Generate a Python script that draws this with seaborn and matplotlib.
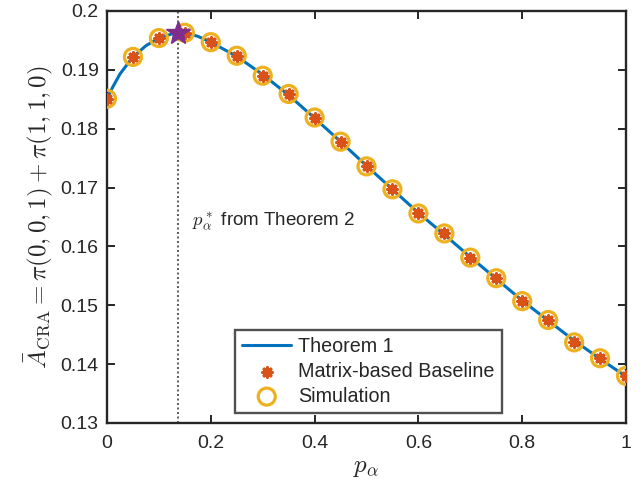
import numpy as np
import pandas as pd
import seaborn as sns
import matplotlib.pyplot as plt

# Datos
p_sim = [0.0, 0.05, 0.1, 0.15, 0.2, 0.25, 0.3, 0.35, 0.4, 0.45, 0.5,
         0.55, 0.6, 0.65, 0.7, 0.75, 0.8, 0.85, 0.9, 0.95, 1.0]
a_sim = [0.1851, 0.1922, 0.1954, 0.1963, 0.1947, 0.1924, 0.1890, 0.1859, 0.1819, 0.1778, 0.1736,
         0.1697, 0.1656, 0.1622, 0.1581, 0.1546, 0.1507, 0.1475, 0.1437, 0.1410, 0.1380]
a_matrix = a_sim

# Curva teorica (Theorem 1)
p_theory = [0.0, 0.01, 0.025, 0.05, 0.075, 0.1, 0.125, 0.15, 0.175, 0.2, 0.25, 0.3, 0.35, 0.4,
            0.45, 0.5, 0.55, 0.6, 0.65, 0.7, 0.75, 0.8, 0.85, 0.9, 0.95, 1.0]
a_theory = [0.1851, 0.1869, 0.1893, 0.1922, 0.1941, 0.1954, 0.1961, 0.1963, 0.1957, 0.1947, 0.1923,
            0.1892, 0.1857, 0.1818, 0.1778, 0.1737, 0.1697, 0.1657, 0.1620, 0.1582, 0.1545,
            0.1508, 0.1474, 0.1440, 0.1409, 0.1379]

p_star = 0.137
a_star = 0.1963

df_th = pd.DataFrame({"p": p_theory, "A": a_theory})
df_pts = pd.DataFrame({"p": p_sim, "sim": a_sim, "mat": a_matrix})

sns.set_style("ticks")
plt.rcParams["font.family"] = ["Liberation Sans", "DejaVu Sans"]
plt.rcParams["mathtext.fontset"] = "cm"

fig = plt.figure(figsize=(6.43, 4.93), dpi=100)
ax = fig.add_axes([0.1664, 0.142, 0.8072, 0.8357])

ax.axvline(p_star, color="#444444", ls=(0, (1.2, 1.5)), lw=1.2, zorder=1)
sns.lineplot(data=df_th, x="p", y="A", ax=ax, color="#0072BD", lw=2.2, label="Theorem 1", zorder=2)
sns.scatterplot(data=df_pts, x="p", y="mat", ax=ax, marker=(8, 2, 0), s=45, color="#D95319",
                linewidth=2.3, label="Matrix-based Baseline", zorder=4)
sns.scatterplot(data=df_pts, x="p", y="sim", ax=ax, marker="o", s=150, facecolor="none",
                edgecolor="#EDB120", linewidth=2.3, label="Simulation", zorder=3)
ax.plot([p_star], [a_star], marker="*", ms=18, color="#7E2F8E", ls="none", zorder=5)

ax.text(0.163, 0.1642, r"$p_\alpha^*$ from Theorem 2", fontsize=13.5, va="center")

ax.set_xlim(0, 1)
ax.set_ylim(0.13, 0.2)
ax.set_xticks([0, 0.2, 0.4, 0.6, 0.8, 1])
ax.set_xticklabels(["0", "0.2", "0.4", "0.6", "0.8", "1"])
ax.set_yticks([0.13, 0.14, 0.15, 0.16, 0.17, 0.18, 0.19, 0.2])
ax.set_yticklabels(["0.13", "0.14", "0.15", "0.16", "0.17", "0.18", "0.19", "0.2"])
ax.tick_params(direction="in", length=6, width=1.4, top=True, right=True, labelsize=14,
               color="#262626", labelcolor="#262626")
ax.tick_params(axis="x", pad=9)
ax.tick_params(axis="y", pad=6)
for s in ax.spines.values():
    s.set_linewidth(1.7)
    s.set_color("#262626")

ax.set_xlabel(r"$p_\alpha$", fontsize=18, labelpad=2)
ax.set_ylabel(r"$\bar{A}_{\mathrm{CRA}} = \pi(0,0,1) + \pi(1,1,0)$", fontsize=18, labelpad=4)

leg = ax.legend(loc="lower left", bbox_to_anchor=(0.247, 0.025), fontsize=14.2, frameon=True,
                fancybox=False, edgecolor="#262626", handlelength=2.5, borderpad=0.35,
                labelspacing=0.3, handletextpad=0.35, borderaxespad=0)
leg.get_frame().set_linewidth(1.7)

fig.savefig("out.png", dpi=100)
plt.close()
